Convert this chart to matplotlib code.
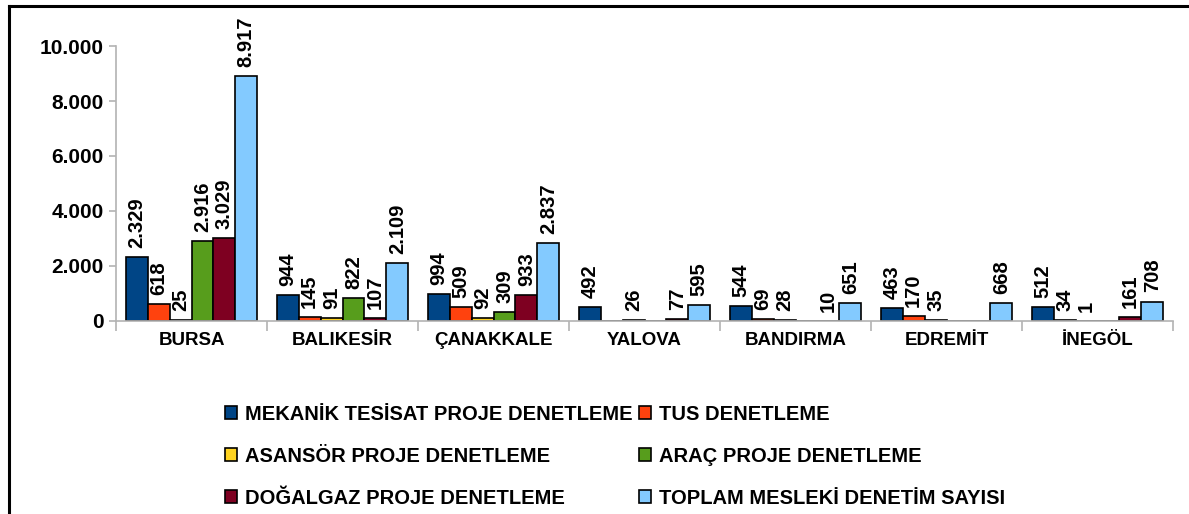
import numpy as np
import matplotlib.pyplot as plt
from matplotlib.lines import Line2D
from matplotlib.ticker import FuncFormatter

cities = ["BURSA", "BALIKESİR", "ÇANAKKALE", "YALOVA", "BANDIRMA", "EDREMİT", "İNEGÖL"]
series_names = [
    "MEKANİK TESİSAT PROJE DENETLEME",
    "TUS DENETLEME",
    "ASANSÖR PROJE DENETLEME",
    "ARAÇ PROJE DENETLEME",
    "DOĞALGAZ PROJE DENETLEME",
    "TOPLAM MESLEKİ DENETİM SAYISI",
]
nan = np.nan
mekanik = [2329, 944, 994, 492, 544, 463, 512]
tus = [618, 145, 509, nan, 69, 170, 34]
asansor = [25, 91, 92, 26, 28, 35, 1]
arac = [2916, 822, 309, nan, nan, nan, nan]
dogalgaz = [3029, 107, 933, 77, 10, nan, 161]
toplam = [8917, 2109, 2837, 595, 651, 668, 708]
colors = ["#004586", "#FF420E", "#FFD320", "#579D1C", "#7E0021", "#83CAFF"]


def tr_fmt(v):
    return f"{v:,.0f}".replace(",", ".")


def main():
    plt.rcParams["font.family"] = ["Liberation Sans", "DejaVu Sans"]
    plt.rcParams["font.weight"] = "bold"
    fig = plt.figure(figsize=(11.89, 5.14), dpi=100)
    ax = fig.add_axes([0.0976, 0.3755, 0.889, 0.535])

    data = [mekanik, tus, asansor, arac, dogalgaz, toplam]
    x = np.arange(len(cities))
    w = 0.145
    handles = []
    for i, (vals, name, c) in enumerate(zip(data, series_names, colors)):
        vals = np.array(vals, dtype=float)
        pos = x + (i - 2.5) * w
        b = ax.bar(pos, np.nan_to_num(vals), w, color=c, edgecolor="black",
                   linewidth=1.2, label=name)
        handles.append(b)
        for p, v in zip(pos, vals):
            if np.isnan(v):
                continue
            ax.annotate(tr_fmt(v), (p, v), xytext=(0, 6.5), textcoords="offset points",
                        rotation=90, ha="center", va="bottom",
                        fontsize=14.5, fontweight="bold")

    ax.set_xlim(-0.5, len(cities) - 0.5)
    ax.set_ylim(0, 10000)
    ax.set_yticks(np.arange(0, 10001, 2000))
    ax.yaxis.set_major_formatter(FuncFormatter(lambda v, _: tr_fmt(v)))
    ax.set_xticks(x)
    ax.set_xticklabels(cities)
    ax.set_xticks(np.arange(-0.5, len(cities)), minor=True)
    ax.tick_params(axis="x", which="major", length=0, pad=8, labelsize=13.5)
    ax.tick_params(axis="x", which="minor", length=7, color="#b3b3b3", width=1.2)
    ax.tick_params(axis="y", length=5, color="#b3b3b3", width=1.2, labelsize=15, pad=4)
    for lab in ax.get_xticklabels() + ax.get_yticklabels():
        lab.set_fontweight("bold")
    for s in ["top", "right"]:
        ax.spines[s].set_visible(False)
    for s in ["left", "bottom"]:
        ax.spines[s].set_color("#b3b3b3")
        ax.spines[s].set_linewidth(1.2)

    order = [0, 2, 4, 1, 3, 5]
    fig.legend([handles[k] for k in order], [series_names[k] for k in order],
               loc="upper left", bbox_to_anchor=(0.189, 0.213), ncol=2, frameon=False,
               prop={"weight": "bold", "size": 14.5}, handlelength=0.6,
               handleheight=0.6, handletextpad=0.4, columnspacing=0.3,
               labelspacing=1.15, borderaxespad=0, borderpad=0)

    # figure frame: left and top edges only
    fig.add_artist(Line2D([0.0076, 0.0076], [0.0, 0.9885], color="black", lw=2.2,
                          transform=fig.transFigure))
    fig.add_artist(Line2D([0.0076, 1.0], [0.9885, 0.9885], color="black", lw=2.2,
                          transform=fig.transFigure))

    fig.savefig("out.png", dpi=100, facecolor="white")


if __name__ == "__main__":
    main()
